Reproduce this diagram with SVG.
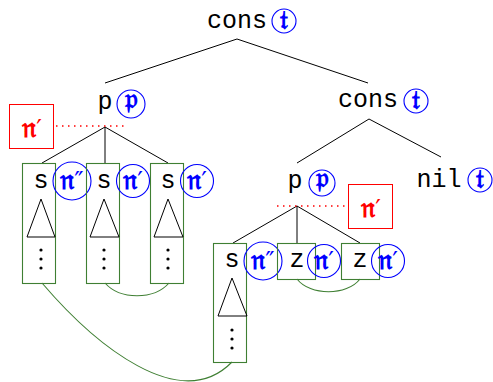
<svg xmlns="http://www.w3.org/2000/svg" width="493" height="382" viewBox="0 0 493 382">
  <style>
    .tt { font-family: "Liberation Mono", "DejaVu Sans Mono", monospace; font-size: 25px; fill: #000; text-anchor: middle; }
    .frak { font-family: "DejaVu Serif", "DejaVu Sans", "Noto Sans", serif; font-weight: bold; fill: #0000ff; text-anchor: middle; }
    .ring { fill: none; stroke: #0000ff; stroke-width: 1.1; }
    .edge { fill: none; stroke: #000; stroke-width: 1; }
    .box { fill: none; stroke: #3f7f33; stroke-width: 1.1; }
    .link { fill: none; stroke: #3f7f33; stroke-width: 1.1; }
    .tri { fill: none; stroke: #000; stroke-width: 1; }
    .dot { fill: #000; }
    .mark { fill: #fff; stroke: #ff0000; stroke-width: 1; }
    .marktxt { font-family: "DejaVu Serif", "DejaVu Sans", serif; font-weight: bold; fill: #ff0000; text-anchor: middle; font-size: 28px; }
    .pr { font-size: 25px; font-weight: normal; }
    .guide { stroke: #ff0000; stroke-width: 1.5; stroke-dasharray: 1.5 4.5; fill: none; }
  </style>

  <!-- tree edges and sharing links -->
  <g id="connectors">
    <path class="edge" d="M237,39 L105,83"/>
    <path class="edge" d="M237,39 L368,83"/>
    <path class="edge" d="M369,119 L297,163"/>
    <path class="edge" d="M369,119 L441,157"/>
    <path class="edge" d="M105,127 L42,163"/>
    <path class="edge" d="M105,127 L105,163"/>
    <path class="edge" d="M105,127 L168,163"/>
    <path class="edge" d="M297,206 L233,243"/>
    <path class="edge" d="M297,206 L297,243"/>
    <path class="edge" d="M297,206 L360,243"/>
    <path class="guide" d="M56,126 L125,126"/>
    <path class="guide" d="M277,206 L347,206"/>
    <path class="link" d="M105,283 C120,300 154,300 169,283"/>
    <path class="link" d="M297,279 C310,296 347,296 360,279"/>
    <path class="link" d="M42,283 C95,345 180,415 232,362"/>
  </g>

  <g id="root">
    <text class="tt" x="237" y="28">cons</text>
    <circle class="ring" cx="284" cy="21" r="12"/>
    <text class="frak" x="284" y="29" font-size="26">𝔱</text>
  </g>

  <g id="p1">
    <text class="tt" x="105" y="109">p</text>
    <circle class="ring" cx="131" cy="104" r="14"/>
    <text class="frak" x="131" y="108" font-size="28">𝔭</text>
  </g>

  <g id="cons2">
    <text class="tt" x="368" y="107">cons</text>
    <circle class="ring" cx="416" cy="101" r="12"/>
    <text class="frak" x="416" y="109" font-size="26">𝔱</text>
  </g>

  <g id="p2">
    <text class="tt" x="295" y="188">p</text>
    <circle class="ring" cx="322" cy="183" r="13"/>
    <text class="frak" x="322" y="187" font-size="28">𝔭</text>
  </g>

  <g id="nil">
    <text class="tt" x="439" y="187">nil</text>
    <circle class="ring" cx="480" cy="180" r="12"/>
    <text class="frak" x="480" y="188" font-size="26">𝔱</text>
  </g>

  <g id="mark1">
    <rect class="mark" x="9.5" y="104.5" width="44" height="44"/>
    <text class="marktxt" x="32" y="137">𝔫<tspan class="pr">′</tspan></text>
  </g>

  <g id="mark2">
    <rect class="mark" x="348.5" y="184.5" width="44" height="44"/>
    <text class="marktxt" x="371" y="217">𝔫<tspan class="pr">′</tspan></text>
  </g>

  <g id="s1">
    <rect class="box" x="22.5" y="163.5" width="33" height="120"/>
    <text class="tt" x="41" y="188">s</text>
    <path class="tri" d="M41,199 L27,237 L55,237 Z"/>
    <circle class="dot" cx="41" cy="250" r="1.6"/>
    <circle class="dot" cx="41" cy="259" r="1.6"/>
    <circle class="dot" cx="41" cy="268" r="1.6"/>
    <circle class="ring" cx="72" cy="181" r="19"/>
    <text class="frak" x="72" y="189" font-size="28">𝔫<tspan class="pr">″</tspan></text>
  </g>

  <g id="s2">
    <rect class="box" x="86.5" y="163.5" width="33" height="120"/>
    <text class="tt" x="104" y="188">s</text>
    <path class="tri" d="M104,199 L90,237 L119,237 Z"/>
    <circle class="dot" cx="104" cy="250" r="1.6"/>
    <circle class="dot" cx="104" cy="259" r="1.6"/>
    <circle class="dot" cx="104" cy="268" r="1.6"/>
    <circle class="ring" cx="133" cy="181" r="16.5"/>
    <text class="frak" x="133" y="189" font-size="28">𝔫<tspan class="pr">′</tspan></text>
  </g>

  <g id="s3">
    <rect class="box" x="150.5" y="163.5" width="33" height="120"/>
    <text class="tt" x="168" y="188">s</text>
    <path class="tri" d="M168,199 L154,237 L183,237 Z"/>
    <circle class="dot" cx="168" cy="250" r="1.6"/>
    <circle class="dot" cx="168" cy="259" r="1.6"/>
    <circle class="dot" cx="168" cy="268" r="1.6"/>
    <circle class="ring" cx="197" cy="181" r="16.5"/>
    <text class="frak" x="197" y="189" font-size="28">𝔫<tspan class="pr">′</tspan></text>
  </g>

  <g id="s4">
    <rect class="box" x="213.5" y="243.5" width="33" height="119"/>
    <text class="tt" x="232" y="267">s</text>
    <path class="tri" d="M232,278 L218,316 L247,316 Z"/>
    <circle class="dot" cx="232" cy="330" r="1.6"/>
    <circle class="dot" cx="232" cy="339" r="1.6"/>
    <circle class="dot" cx="232" cy="348" r="1.6"/>
    <circle class="ring" cx="263" cy="261" r="19"/>
    <text class="frak" x="263" y="269" font-size="28">𝔫<tspan class="pr">″</tspan></text>
  </g>

  <g id="z1">
    <rect class="box" x="277.5" y="243.5" width="38" height="36"/>
    <text class="tt" x="297" y="267">z</text>
    <circle class="ring" cx="324" cy="261" r="16.5"/>
    <text class="frak" x="324" y="269" font-size="28">𝔫<tspan class="pr">′</tspan></text>
  </g>

  <g id="z2">
    <rect class="box" x="341.5" y="243.5" width="38" height="36"/>
    <text class="tt" x="360" y="267">z</text>
    <circle class="ring" cx="388" cy="261" r="16.5"/>
    <text class="frak" x="388" y="269" font-size="28">𝔫<tspan class="pr">′</tspan></text>
  </g>
</svg>
